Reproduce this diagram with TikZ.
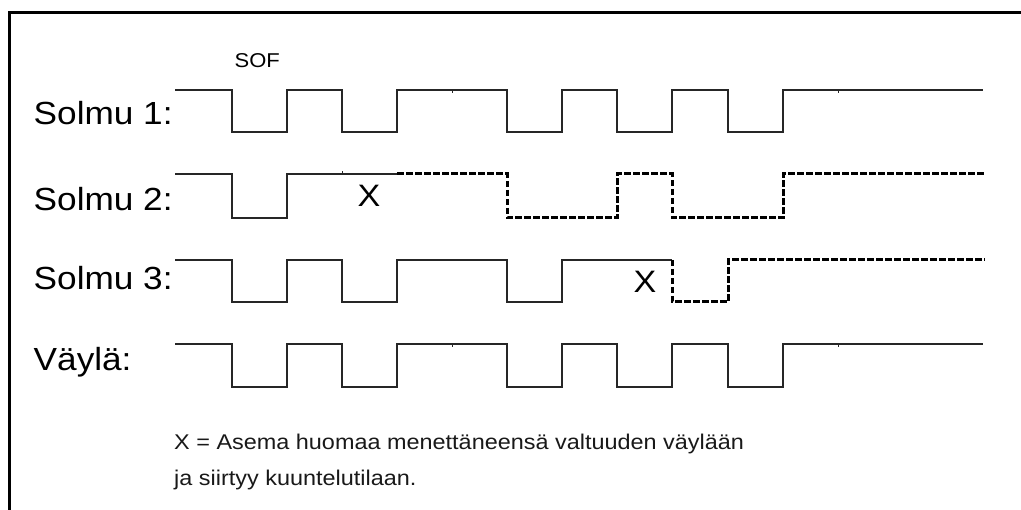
\documentclass[tikz,border=0pt]{standalone}
\usepackage{fontspec}
\setmainfont{Liberation Sans}
% slightly widened lettering
\newcommand\widetext[1]{\scalebox{1.1}[1]{#1}}
\begin{document}
\begin{tikzpicture}[x=1pt,y=-1pt,
  frame/.style={line width=3pt, black},
  sig/.style={line width=1.7pt, black!85, line join=miter},
  lost/.style={line width=3pt, black, dash pattern=on 6.5pt off 2.5pt, line join=miter},
  tick/.style={line width=1pt, black!85},
  lbl/.style={anchor=base west, inner sep=0pt, font=\fontsize{32}{38}\selectfont},
  xmark/.style={anchor=base, inner sep=0pt, font=\fontsize{31}{36}\selectfont},
  note/.style={anchor=base west, inner sep=0pt, font=\fontsize{21.3}{26}\selectfont, black!90},
]
\useasboundingbox (0,0) rectangle (1021,510);
\fill[white] (0,0) rectangle (1021,510);

% frame edges
\draw[frame] (9,510) -- (9,13) -- (1021,13);

% row labels
\node[lbl] (s1) at (33.5,124.5) {\widetext{Solmu 1:}};
\node[lbl] (s2) at (33.5,211) {\widetext{Solmu 2:}};
\node[lbl] (s3) at (33.5,290) {\widetext{Solmu 3:}};
\node[lbl] (bus) at (33.5,371) {\widetext{Väylä:}};

% start-of-frame label
\node[anchor=base west, inner sep=0pt, font=\fontsize{20}{24}\selectfont] (sof) at (234.5,68) {\widetext{SOF}};

% Solmu 1
\draw[sig] (175,90) -- (232,90) -- (232,132) -- (287,132) -- (287,90) -- (342,90)
  -- (342,132) -- (397,132) -- (397,90) -- (507,90) -- (507,132) -- (562,132)
  -- (562,90) -- (617,90) -- (617,132) -- (672,132) -- (672,90) -- (728,90)
  -- (728,132) -- (783,132) -- (783,90) -- (983,90);
\draw[tick] (452,90) -- (452,93);
\draw[tick] (838,90) -- (838,93);

% Solmu 2: drives until it loses arbitration, then listens
\draw[sig] (175,174) -- (232,174) -- (232,218) -- (287,218) -- (287,174) -- (397,174);
\draw[tick] (342,174) -- (342,171);
\draw[lost] (397,174) -- (507,174) -- (507,218) -- (617,218) -- (617,174) -- (672,174)
  -- (672,218) -- (783,218) -- (783,174) -- (985,174);
\node[xmark] (x2) at (369,207) {\widetext{X}};

% Solmu 3
\draw[sig] (175,260) -- (232,260) -- (232,302) -- (287,302) -- (287,260) -- (342,260)
  -- (342,302) -- (397,302) -- (397,260) -- (507,260) -- (507,302) -- (562,302)
  -- (562,260) -- (672,260);
\draw[lost] (672,260) -- (672,302) -- (728,302) -- (728,260) -- (985,260);
\node[xmark] (x3) at (645,293) {\widetext{X}};

% Bus level
\draw[sig] (175,344) -- (232,344) -- (232,387) -- (287,387) -- (287,344) -- (342,344)
  -- (342,387) -- (397,387) -- (397,344) -- (507,344) -- (507,387) -- (562,387)
  -- (562,344) -- (617,344) -- (617,387) -- (672,387) -- (672,344) -- (728,344)
  -- (728,387) -- (783,387) -- (783,344) -- (983,344);
\draw[tick] (452,344) -- (452,347);
\draw[tick] (838,344) -- (838,347);

% legend
\node[note] (n1) at (174,450) {\widetext{X = Asema huomaa menettäneensä valtuuden väylään}};
\node[note] (n2) at (174,486) {\widetext{ja siirtyy kuuntelutilaan.}};
\end{tikzpicture}
\end{document}
